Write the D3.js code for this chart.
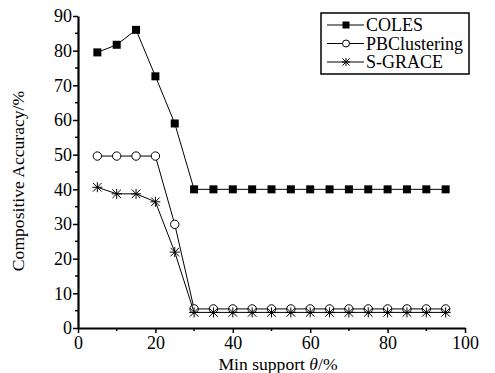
<!DOCTYPE html>
<html>
<head>
<meta charset="utf-8">
<script src="https://cdn.jsdelivr.net/npm/d3@7"></script>
<style>
  body { margin: 0; background: #fff; }
</style>
</head>
<body>
<div id="chart"></div>
<script>
// data
var support = [5, 10, 15, 20, 25, 30, 35, 40, 45, 50, 55, 60, 65, 70, 75, 80, 85, 90, 95];
var coles = [79.5, 81.7, 86, 72.6, 59, 40, 40, 40, 40, 40, 40, 40, 40, 40, 40, 40, 40, 40, 40];
var pbclustering = [49.6, 49.6, 49.6, 49.6, 29.9, 5.5, 5.5, 5.5, 5.5, 5.5, 5.5, 5.5, 5.5, 5.5, 5.5, 5.5, 5.5, 5.5, 5.5];
var sgrace = [40.6, 38.7, 38.7, 36.4, 21.9, 4.5, 4.5, 4.5, 4.5, 4.5, 4.5, 4.5, 4.5, 4.5, 4.5, 4.5, 4.5, 4.5, 4.5];
var seriesNames = ["COLES", "PBClustering", "S-GRACE"];
var xTicks = [0, 20, 40, 60, 80, 100];
var yTicks = [0, 10, 20, 30, 40, 50, 60, 70, 80, 90];

var serif = "Liberation Serif";

// set the dimensions and margins of the graph
var margin = {top: 16, right: 30, bottom: 45, left: 78},
    width = 465 - margin.left,
    height = 328 - margin.top;

var svg = d3.select("#chart")
  .append("svg")
    .attr("width", 495)
    .attr("height", 373)
  .append("g")
    .attr("transform", "translate(" + margin.left + "," + margin.top + ")");

var x = d3.scaleLinear().domain([0, 100]).range([0, width]);
var y = d3.scaleLinear().domain([0, 90]).range([height, 0]);

// minor ticks
svg.append("g")
  .selectAll("line")
  .data(d3.range(10, 100, 20))
  .enter().append("line")
    .attr("x1", function(d) { return x(d); })
    .attr("x2", function(d) { return x(d); })
    .attr("y1", height)
    .attr("y2", height + 3)
    .attr("stroke", "#000")
    .attr("stroke-width", 1.5);
svg.append("g")
  .selectAll("line")
  .data(d3.range(5, 90, 10))
  .enter().append("line")
    .attr("y1", function(d) { return y(d); })
    .attr("y2", function(d) { return y(d); })
    .attr("x1", 0)
    .attr("x2", -3)
    .attr("stroke", "#000")
    .attr("stroke-width", 1.5);

// Add X axis
var xAxis = svg.append("g")
  .attr("transform", "translate(0," + height + ")")
  .call(d3.axisBottom(x).tickValues(xTicks).tickSize(5).tickPadding(3).tickSizeOuter(0));
// Add Y axis
var yAxis = svg.append("g")
  .call(d3.axisLeft(y).tickValues(yTicks).tickSize(5).tickPadding(1).tickSizeOuter(0));

[xAxis, yAxis].forEach(function(a) {
  a.attr("font-family", null).attr("font-size", null);
  a.select(".domain").attr("stroke-width", 2.2);
  a.selectAll(".tick line").attr("stroke-width", 1.5);
  a.selectAll("text").attr("fill", "#000")
    .style("font-family", serif).style("font-size", "18px");
});

var line = d3.line()
  .x(function(d) { return x(d[0]); })
  .y(function(d) { return y(d[1]); });

var allSeries = [coles, pbclustering, sgrace];

function drawMarker(g, kind) {
  if (kind === 0) {
    g.append("rect").attr("x", -4).attr("y", -4).attr("width", 8).attr("height", 8)
      .attr("fill", "#000");
  } else if (kind === 1) {
    g.append("circle").attr("r", 4.2).attr("fill", "#fff")
      .attr("stroke", "#000").attr("stroke-width", 1);
  } else {
    g.append("path")
      .attr("d", "M0,-5V5M-4.3,-4.3L4.3,4.3M-4.3,4.3L4.3,-4.3M-5,0H5")
      .attr("stroke", "#000").attr("stroke-width", 1).attr("fill", "none");
  }
}

allSeries.forEach(function(vals, k) {
  var pts = support.map(function(s, i) { return [s, vals[i]]; });
  svg.append("path")
    .datum(pts)
    .attr("d", line)
    .attr("fill", "none")
    .attr("stroke", "#000")
    .attr("stroke-width", 1);
  svg.append("g")
    .selectAll("g")
    .data(pts)
    .enter().append("g")
      .attr("transform", function(d) { return "translate(" + x(d[0]) + "," + y(d[1]) + ")"; })
      .each(function() { drawMarker(d3.select(this), k); });
});

// legend
var legend = svg.append("g").attr("transform", "translate(" + (321 - margin.left) + "," + (13 - margin.top) + ")");
legend.append("rect")
  .attr("width", 148).attr("height", 61)
  .attr("fill", "#fff").attr("stroke", "#000").attr("stroke-width", 1.5);
seriesNames.forEach(function(name, k) {
  var g = legend.append("g").attr("transform", "translate(0," + (12 + k * 18.5) + ")");
  g.append("line").attr("x1", 6).attr("x2", 43).attr("stroke", "#000").attr("stroke-width", 1);
  var m = g.append("g").attr("transform", "translate(25,0)");
  if (k === 0) {
    m.append("rect").attr("x", -3.5).attr("y", -3.5).attr("width", 7).attr("height", 7).attr("fill", "#000");
  } else if (k === 1) {
    m.append("circle").attr("r", 3.5).attr("fill", "#fff").attr("stroke", "#000");
  } else {
    m.append("path").attr("d", "M0,-4V4M-3.5,-3.5L3.5,3.5M-3.5,3.5L3.5,-3.5M-4,0H4")
      .attr("stroke", "#000").attr("fill", "none");
  }
  g.append("text").attr("x", 45).attr("y", 6)
    .style("font-family", serif).style("font-size", "18px").text(name);
});

// axis labels
svg.append("text")
  .attr("transform", "rotate(-90)")
  .attr("x", -165)
  .attr("y", -54)
  .attr("text-anchor", "middle")
  .style("font-family", serif).style("font-size", "17.6px")
  .text("Compositive Accuracy/%");

var xl = svg.append("text")
  .attr("x", 200)
  .attr("y", height + 42)
  .attr("text-anchor", "middle")
  .style("font-family", serif).style("font-size", "17.6px");
xl.append("tspan").text("Min support ");
xl.append("tspan").style("font-style", "italic").text("θ");
xl.append("tspan").text("/%");
</script>
</body>
</html>
